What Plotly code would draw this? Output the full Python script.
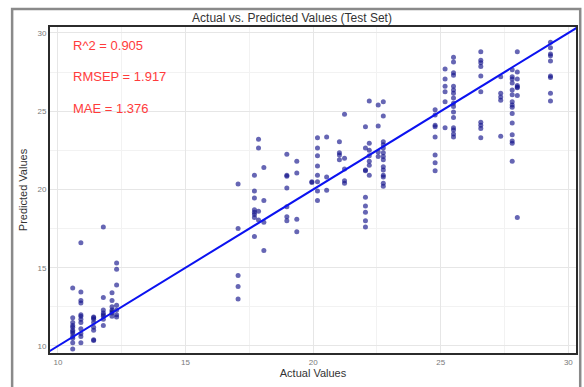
import plotly.graph_objects as go

# Test-set observations: measured (actual) value and model prediction, grouped by actual value
actual = (
    [10.58] * 12 + [10.9] * 12 + [11.4] * 8 + [11.78] * 8 + [12.12] * 7 + [12.3] * 7
    + [17.06] * 5 + [17.7] * 8 + [17.86] * 4 + [18.07] * 4 + [18.97] * 7 + [19.36] * 4 + [19.95] * 2
    + [20.17] * 8 + [20.53] * 3 + [21.03] * 4 + [21.23] * 5
    + [22.05] * 9 + [22.2] * 7 + [22.55] * 4 + [22.75] * 14
    + [24.78] * 8 + [25.17] * 6 + [25.5] * 16 + [26.57] * 10
    + [27.35] * 5 + [27.8] * 15 + [28.0] * 8 + [29.3] * 9
)
predicted = (
    [13.7, 11.8, 11.5, 11.2, 11.0, 10.9, 10.6, 10.5, 10.2, 9.8, 11.3, 10.8]
    + [16.6, 13.45, 12.9, 12.75, 11.9, 11.7, 11.5, 11.1, 10.8, 10.6, 10.2, 12.0]
    + [11.85, 11.7, 11.5, 11.0, 11.2, 10.35, 10.4, 11.8]
    + [17.6, 13.1, 12.3, 12.1, 11.9, 11.7, 11.3, 12.0]
    + [13.4, 12.9, 12.5, 12.3, 12.1, 11.9, 12.2]
    + [15.3, 14.9, 13.9, 12.6, 12.3, 12.0, 11.85]
    + [20.35, 17.5, 14.5, 13.8, 13.0]
    + [20.9, 19.9, 19.45, 18.7, 18.55, 18.4, 18.2, 17.0]
    + [23.2, 22.65, 18.6, 18.05]
    + [21.4, 19.3, 17.9, 16.1]
    + [22.25, 20.9, 20.85, 20.1, 18.9, 18.25, 18.0]
    + [21.8, 21.05, 18.1, 17.3]
    + [20.5, 20.45]
    + [23.3, 22.65, 22.15, 21.5, 20.9, 20.5, 19.9, 19.3]
    + [23.35, 20.8, 19.95]
    + [23.05, 22.35, 22.2, 21.9]
    + [24.8, 22.0, 21.3, 20.55, 20.4]
    + [24.0, 22.65, 21.25, 19.5, 18.95, 18.55, 18.0, 17.6, 21.2]
    + [25.65, 22.95, 22.5, 22.15, 21.8, 21.55, 20.9]
    + [25.4, 24.05, 22.4, 22.1]
    + [25.6, 24.7, 23.05, 22.85, 22.65, 22.35, 22.1, 21.9, 21.45, 21.25, 20.9, 20.8, 20.4, 20.2]
    + [25.1, 24.75, 24.1, 24.0, 23.35, 22.2, 21.7, 21.2]
    + [27.7, 27.05, 26.6, 26.25, 25.6, 23.95]
    + [28.45, 28.15, 27.45, 27.3, 26.6, 26.35, 26.15, 25.85, 25.5, 25.3, 24.95, 24.6, 23.95, 23.8, 23.55, 23.35]
    + [28.8, 28.25, 28.1, 27.85, 27.25, 26.25, 24.3, 24.1, 23.9, 23.3]
    + [27.2, 26.15, 25.9, 25.7, 23.4]
    + [27.65, 27.2, 27.05, 26.8, 26.35, 26.05, 25.6, 25.4, 25.25, 24.85, 24.25, 23.5, 23.1, 22.95, 21.8]
    + [28.8, 27.5, 27.05, 26.65, 26.55, 26.5, 26.0, 18.2]
    + [29.4, 29.05, 28.65, 28.55, 28.2, 27.25, 27.15, 26.15, 25.65]
)

# Identity reference line (predicted = actual)
ref_line = [9.5, 30.5]

metrics = ["R^2 = 0.905", "RMSEP = 1.917", "MAE = 1.376"]
metric_y = [29.17, 27.19, 25.2]

tick_vals = [10, 15, 20, 25, 30]

fig = go.Figure()
fig.add_trace(go.Scatter(
    x=actual, y=predicted, mode="markers",
    marker=dict(size=5, color="rgba(20,20,140,0.65)", line=dict(width=0)),
    showlegend=False, hoverinfo="x+y",
))
fig.add_trace(go.Scatter(
    x=ref_line, y=ref_line, mode="lines",
    line=dict(color="#0b12f0", width=2), showlegend=False, hoverinfo="skip",
))

for text, yv in zip(metrics, metric_y):
    fig.add_annotation(
        x=10.5, y=yv, xref="x", yref="y", text=text, showarrow=False,
        xanchor="left", yanchor="middle",
        font=dict(family="Liberation Sans, Arial", size=13, color="#ff3b3b"),
    )

axis_common = dict(
    tickvals=tick_vals, ticks="", showline=True, mirror=True,
    linecolor="#2b2b2b", linewidth=2, zeroline=False,
    gridcolor="#e6e6e6", gridwidth=1,
    minor=dict(dtick=2.5, showgrid=True, gridcolor="#f2f2f2", gridwidth=1),
    tickfont=dict(family="Liberation Sans, Arial", size=8, color="#7a7a7a"),
)

fig.update_xaxes(
    range=[9.69, 30.3], tick0=10, dtick=5,
    title=dict(text="Actual Values", standoff=4,
               font=dict(family="Liberation Sans, Arial", size=11, color="#333333")),
    **axis_common,
)
fig.update_yaxes(
    range=[9.55, 30.38], tick0=10, dtick=5,
    title=dict(text="Predicted Values", standoff=8,
               font=dict(family="Liberation Sans Narrow, Liberation Sans, Arial", size=11, color="#333333")),
    **axis_common,
)

# Outer frame around the whole panel
fig.add_shape(
    type="rect", xref="paper", yref="paper",
    x0=-0.072, x1=1.008, y0=-0.11, y1=1.055,
    line=dict(color="#8a8a8a", width=2.5), fillcolor="rgba(0,0,0,0)", layer="above",
)

fig.update_layout(
    width=584, height=387,
    margin=dict(l=50, r=6, t=27, b=34),
    paper_bgcolor="white", plot_bgcolor="white",
    title=dict(text="Actual vs. Predicted Values (Test Set)", x=0.5, xanchor="center",
               y=0.955, yanchor="middle",
               font=dict(family="Liberation Sans, Arial", size=12, color="#333333")),
)

fig.write_html("out.html")
